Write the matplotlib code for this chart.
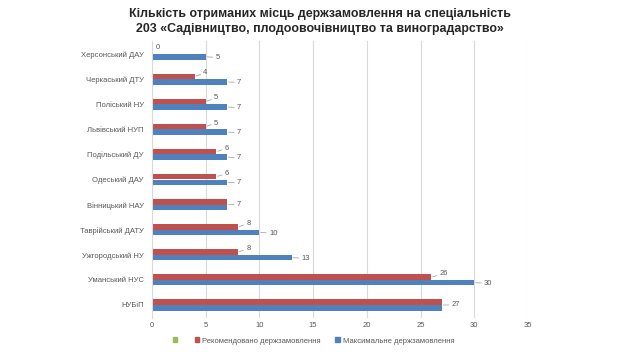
import numpy as np
import matplotlib.pyplot as plt
from matplotlib.patches import Patch

plt.rcParams['font.family'] = ['Liberation Sans', 'DejaVu Sans']

universities = ['Херсонський ДАУ', 'Черкаський ДТУ', 'Поліський НУ', 'Львівський НУП',
                'Подільський ДУ', 'Одеський ДАУ', 'Вінницький НАУ', 'Таврійський ДАТУ',
                'Ужгородський НУ', 'Уманський НУС', 'НУБіП']
recommended = [0, 4, 5, 5, 6, 6, 7, 8, 8, 26, 27]
maximum = [5, 7, 7, 7, 7, 7, 7, 10, 13, 30, 27]

red = '#C0504D'
blue = '#4F81BD'
green = '#9BBB59'
gray = '#595959'
fs = 5.5

fig = plt.figure(figsize=(6.4, 3.59), dpi=100)
ax = fig.add_axes([0.2375, 0.1155, 0.5875, 0.769])

y = np.arange(len(universities))
h = 0.22
ax.barh(y - h / 2, recommended, height=h, color=red)
ax.barh(y + h / 2, maximum, height=h, color=blue)

ax.set_ylim(len(universities) - 0.5, -0.5)
ax.set_xlim(0, 35)
ax.set_xticks(range(0, 36, 5))
ax.set_yticks(y)
ax.set_yticklabels(universities)
ax.tick_params(axis='both', length=0, labelsize=fs, colors=gray)
ax.tick_params(axis='y', pad=6)
ax.tick_params(axis='x', pad=3.5)
for s in ['top', 'right', 'bottom']:
    ax.spines[s].set_visible(False)
ax.spines['left'].set_color('#D9D9D9')
ax.spines['left'].set_linewidth(0.8)
ax.grid(axis='x', color='#D9D9D9', lw=0.8)
ax.set_axisbelow(True)

line = dict(arrowstyle='-', color='#A6A6A6', lw=0.6, shrinkA=0, shrinkB=1)
for i, (r, m) in enumerate(zip(recommended, maximum)):
    if r == m:
        ax.annotate(str(m), (m, i), xytext=(7, 0), textcoords='offset points',
                    va='center', ha='left', fontsize=fs, color=gray, arrowprops=line)
        continue
    if r == 0:
        ax.annotate(str(r), (r, i - h / 2), xytext=(2.5, 3), textcoords='offset points',
                    va='center', ha='left', fontsize=fs, color=gray)
    else:
        ax.annotate(str(r), (r, i - h / 2), xytext=(6, 2.5), textcoords='offset points',
                    va='center', ha='left', fontsize=fs, color=gray, arrowprops=line)
    ax.annotate(str(m), (m, i + h / 2), xytext=(7, -0.5), textcoords='offset points',
                va='center', ha='left', fontsize=fs, color=gray, arrowprops=line)

fig.suptitle('Кількість отриманих місць держзамовлення на спеціальність\n'
             '203 «Садівництво, плодоовочівництво та виноградарство»',
             fontsize=8.9, fontweight='bold', color='#262626', y=0.978, linespacing=1.3)

handles = [Patch(color=green), Patch(color=red), Patch(color=blue)]
labels = ['', 'Рекомендовано держзамовлення', 'Максимальне держзамовлення']
fig.legend(handles, labels, loc='center', bbox_to_anchor=(0.49, 0.05), ncol=3,
           frameon=False, fontsize=fs, handlelength=0.6, handleheight=0.6,
           handletextpad=0.4, columnspacing=1.9, labelcolor=gray)

plt.savefig('out.png', dpi=100)
